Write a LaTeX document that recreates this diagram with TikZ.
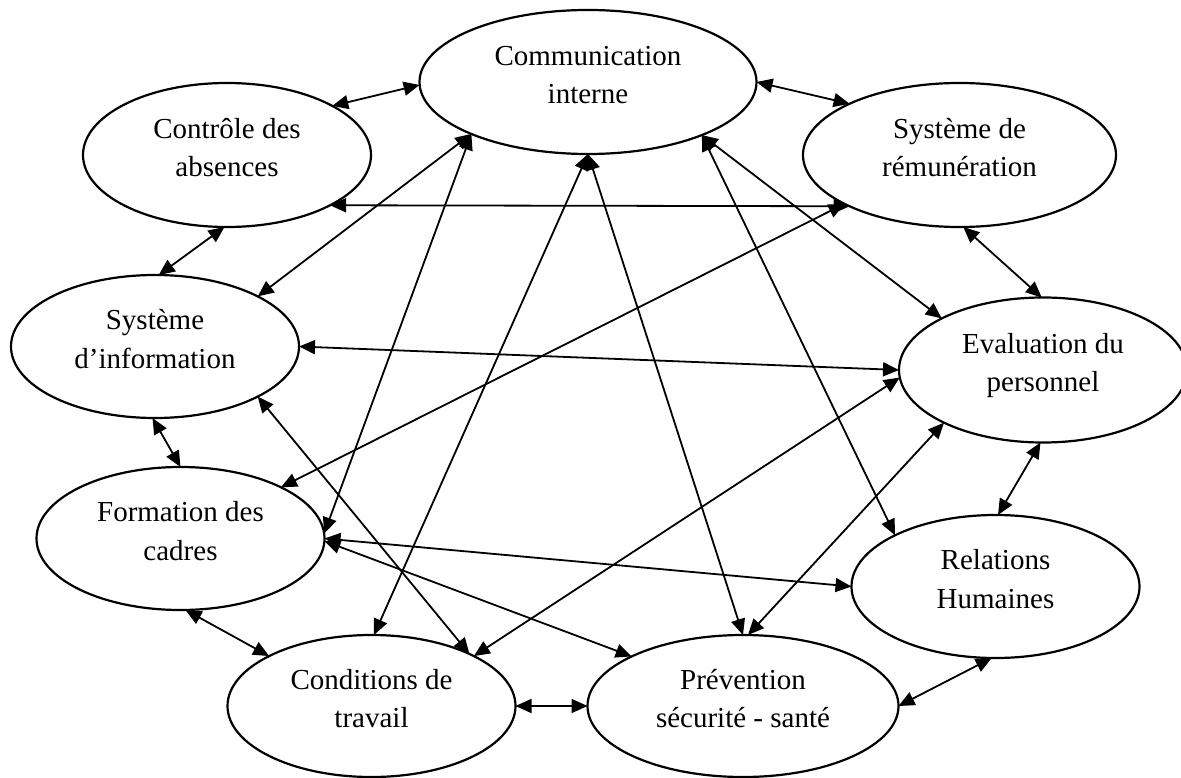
\documentclass[tikz,border=0pt]{standalone}
\usepackage{fontspec}
\setmainfont{Liberation Serif}
\usetikzlibrary{shapes.geometric,arrows.meta}

\begin{document}
\begin{tikzpicture}[x=1pt,y=-1pt,
  bulle/.style={ellipse,draw,line width=2.2pt,inner sep=0pt,outer sep=0pt,
    minimum width=288pt,minimum height=143pt,align=center,
    font=\fontsize{29}{38.5}\selectfont,text height=50pt,text depth=6.5pt},
  lien/.style={<->,line width=1.8pt},
  >={Triangle[length=16pt,width=14pt]}]
\useasboundingbox (0,0) rectangle (1181,778);
\node[bulle,minimum width=337pt,minimum height=144pt] (com) at (588,82) {Communication\\interne};
\node[bulle,minimum height=144pt] (abs) at (227,155) {Contrôle des\\absences};
\node[bulle,minimum width=313pt,minimum height=144pt] (rem) at (959.5,155) {Système de\\rémunération};
\node[bulle] (inf) at (155,346.5) {Système\\d’information};
\node[bulle,minimum height=145pt] (eva) at (1043,370) {Evaluation du\\personnel};
\node[bulle] (frm) at (180.5,538.5) {Formation des\\cadres};
\node[bulle] (rel) at (995.5,586.5) {Relations\\Humaines};
\node[bulle,minimum height=142pt] (cnd) at (371.5,706) {Conditions de\\travail};
\node[bulle,minimum width=311pt,minimum height=142pt] (prv) at (743,706) {Prévention\\sécurité - santé};

\draw[lien] (abs.25) -- (com.181);
\draw[lien] (com.0) -- (rem.155);
\draw[lien] (abs.334) -- (rem.205);
\draw[lien] (abs.268) -- (inf.87);
\draw[lien] (com.204) -- (inf.26);
\draw[lien] (com.204) -- (frm.2);
\draw[lien] (com.270) -- (cnd.88);
\draw[lien] (com.270) -- (prv.90);
\draw[lien] (com.335) -- (rel.153);
\draw[lien] (com.335) -- (eva.153);
\draw[lien] (rem.273) -- (eva.91);
\draw[lien] (rem.203) -- (frm.27);
\draw[lien] (inf.0) -- (eva.180);
\draw[lien] (inf.268) -- (frm.90);
\draw[lien] (inf.334) -- (cnd.28);
\draw[lien] (eva.183) -- (cnd.26);
\draw[lien] (eva.208) -- (prv.86);
\draw[lien] (eva.268) -- (rel.88);
\draw[lien] (frm.0) -- (rel.180);
\draw[lien] (frm.359) -- (prv.156);
\draw[lien] (frm.274) -- (cnd.154);
\draw[lien] (cnd.0) -- (prv.180);
\draw[lien] (prv.0) -- (rel.267);
\end{tikzpicture}
\end{document}
